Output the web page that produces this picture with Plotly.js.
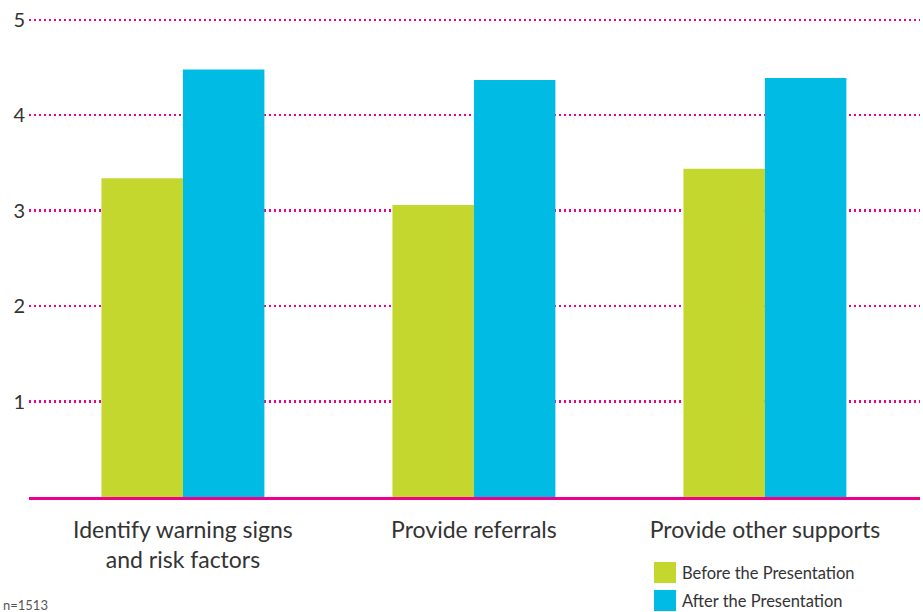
<!DOCTYPE html>
<html>
<head>
<meta charset="utf-8">
<script src="https://cdn.plot.ly/plotly-3.0.1.min.js"></script>
<style>html,body{margin:0;padding:0;background:#fff;}#chart{width:923px;height:612px;}</style>
</head>
<body>
<div id="chart"></div>
<script>
const categories = ["Identify warning signs<br>and risk factors", "Provide referrals", "Provide other supports"];
const seriesNames = ["Before the Presentation", "After the Presentation"];
const beforeValues = [3.34, 3.06, 3.44];
const afterValues = [4.48, 4.37, 4.39];
const yTickValues = [1, 2, 3, 4, 5];
const yTickLabels = ["1", "2", "3", "4", "5"];
const footnote = "n=1513";

const colors = ["#c3d72e", "#00bbe3"];
const magenta = "#ec008c";
const textColor = "#333333";
const fontFamily = "Lato, 'Open Sans', sans-serif";

const traces = [
  {type: "bar", name: seriesNames[0], x: categories, y: beforeValues, marker: {color: colors[0]}, showlegend: false, hoverinfo: "none"},
  {type: "bar", name: seriesNames[1], x: categories, y: afterValues, marker: {color: colors[1]}, showlegend: false, hoverinfo: "none"}
];

// plot area: left 29, top 15, width 891, height 482 (y range 0..5.05)
const pl = 29, pt = 15, pw = 891, ph = 482;
const px = v => (v - pl) / pw;
const py = v => 1 - (v - pt) / ph;

const shapes = [];
const annotations = [];
seriesNames.forEach((name, i) => {
  const y0 = 562 + i * 28;
  shapes.push({type: "rect", xref: "paper", yref: "paper",
    x0: px(654), x1: px(676), y0: py(y0 + 21), y1: py(y0),
    fillcolor: colors[i], line: {width: 0}, layer: "above"});
  annotations.push({xref: "paper", yref: "paper", x: px(680), y: py(y0 + 11),
    xanchor: "left", yanchor: "middle", text: name, showarrow: false,
    font: {family: fontFamily, size: 16.5, color: textColor}});
});
annotations.push({xref: "paper", yref: "paper", x: px(1), y: py(605),
  xanchor: "left", yanchor: "middle", text: footnote, showarrow: false,
  font: {family: fontFamily, size: 13, color: "#555"}});

const layout = {
  width: 923, height: 612,
  margin: {l: pl, r: 923 - pl - pw, t: pt, b: 612 - pt - ph},
  paper_bgcolor: "#fff", plot_bgcolor: "#fff",
  barmode: "group", bargap: 0.44, bargroupgap: 0,
  font: {family: fontFamily, color: textColor},
  xaxis: {
    range: [-0.529, 2.533], showgrid: false, zeroline: false,
    showline: true, linecolor: magenta, linewidth: 3,
    ticks: "", ticklabelstandoff: 10,
    tickfont: {family: fontFamily, size: 23, color: textColor},
    fixedrange: true
  },
  yaxis: {
    range: [0, 5.05], tickvals: yTickValues, ticktext: yTickLabels,
    showgrid: true, gridcolor: magenta, gridwidth: 2.5, griddash: "2px,3px",
    zeroline: false, showline: false, ticks: "", ticklabelstandoff: 3,
    tickfont: {family: fontFamily, size: 20, color: textColor},
    fixedrange: true
  },
  shapes: shapes,
  annotations: annotations,
  showlegend: false
};

Plotly.newPlot("chart", traces, layout, {displayModeBar: false, staticPlot: true});
</script>
</body>
</html>
